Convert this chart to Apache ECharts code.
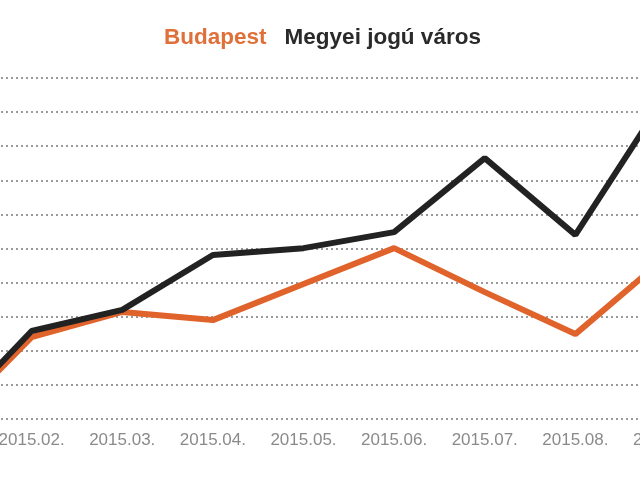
<!DOCTYPE html>
<html>
<head>
<meta charset="utf-8">
<script src="https://cdn.jsdelivr.net/npm/echarts@6/dist/echarts.min.js"></script>
<style>html,body{margin:0;padding:0;background:#fff;overflow:hidden;width:640px;height:480px;}#c{width:758px;height:480px;margin-left:-59px;}</style>
</head>
<body>
<div id="c"></div>
<script>
const categories = ['2015.01.', '2015.02.', '2015.03.', '2015.04.', '2015.05.', '2015.06.', '2015.07.', '2015.08.', '2015.09.'];
const budapest = [-0.3, 2.40, 3.14, 2.90, 3.96, 5.01, 3.72, 2.49, 4.75];
const megyei = [-0.2, 2.58, 3.20, 4.81, 5.01, 5.48, 7.65, 5.40, 9.5];
const seriesNames = ['Budapest', 'Megyei jogú város'];
const colors = ['#e0632b', '#222222'];

const chart = echarts.init(document.getElementById('c'));
chart.setOption({
  animation: false,
  backgroundColor: '#ffffff',
  legend: {
    top: 21,
    left: 'center',
    icon: 'rect',
    itemWidth: 0,
    itemHeight: 0,
    itemGap: 13,
    data: [
      { name: seriesNames[0], textStyle: { color: '#e0703a' } },
      { name: seriesNames[1], textStyle: { color: '#2a2a2a' } }
    ],
    textStyle: { fontFamily: 'Liberation Sans, Arial, sans-serif', fontSize: 22.5, fontWeight: 'bold' }
  },
  grid: { left: 0, right: 33, top: 78, bottom: 61, containLabel: false, outerBoundsMode: 'none' },
  xAxis: {
    type: 'category',
    data: categories,
    boundaryGap: false,
    axisLine: { show: false },
    axisTick: { show: false },
    splitLine: { show: false },
    axisLabel: {
      interval: 0,
      margin: 13,
      color: '#8a8a8a',
      fontSize: 17,
      fontFamily: 'Liberation Sans, Arial, sans-serif'
    }
  },
  yAxis: {
    type: 'value',
    min: 0,
    max: 10,
    interval: 1,
    axisLine: { show: false },
    axisTick: { show: false },
    axisLabel: { show: false },
    splitLine: { show: true, lineStyle: { color: '#9a9a9a', width: 2, type: [2, 3] } }
  },
  series: [
    {
      name: seriesNames[0], type: 'line', data: budapest, symbol: 'none', clip: false,
      lineStyle: { color: colors[0], width: 6 }, itemStyle: { color: colors[0] }
    },
    {
      name: seriesNames[1], type: 'line', data: megyei, symbol: 'none', clip: false,
      lineStyle: { color: colors[1], width: 6 }, itemStyle: { color: colors[1] }
    }
  ]
});
</script>
</body>
</html>
